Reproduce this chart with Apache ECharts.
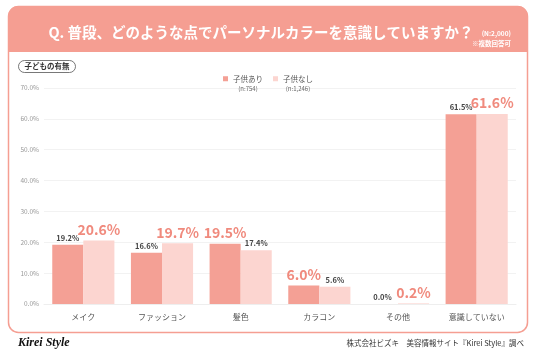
<!DOCTYPE html>
<html><head><meta charset="utf-8">
<script src="https://cdn.jsdelivr.net/npm/echarts@6/dist/echarts.min.js"></script>
<style>html,body{margin:0;padding:0;background:#fff}#c{width:536px;height:357px}</style>
</head><body><div id="c"></div>
<script>
const categories = ['メイク','ファッション','髪色','カラコン','その他','意識していない'];
const withKids = [19.2, 16.6, 19.5, 6.0, 0.0, 61.5];
const withoutKids = [20.6, 19.7, 17.4, 5.6, 0.2, 61.6];
const seriesNames = ['子供あり','子供なし'];
const seriesN = ['(n:754)','(n:1,246)'];
const yTicks = [0,10,20,30,40,50,60,70];

const FONT = '"Noto Sans CJK JP", "Noto Sans", sans-serif';
const C1 = '#F4A095', C2 = '#FCD5D0', HEAD = '#F59E92', BIG = '#F08A7D';

function mk(vals, other){
  return vals.map((v,i)=>{
    const big = v > other[i];
    return {value:v, label:{
      show:true, position:'top', distance: big?4:3,
      formatter: p => p.value.toFixed(1)+'%',
      fontFamily: FONT, fontWeight:'bold',
      fontSize: big?14:7.5, color: big?BIG:'#444'
    }};
  });
}

const chart = echarts.init(document.getElementById('c'), null, {renderer:'canvas'});
chart.setOption({
  animation:false,
  backgroundColor:'#fff',
  textStyle:{fontFamily:FONT},
  graphic:[
    {type:'rect', z:-10, shape:{x:8.5,y:6.5,width:519,height:326,r:10}, style:{fill:'#fff',stroke:HEAD,lineWidth:1.5}},
    {type:'rect', z:-9, shape:{x:8,y:6,width:520,height:46,r:[10,10,0,0]}, style:{fill:HEAD}},
    {type:'text', z:5, x:261, y:32, style:{text:'Q. 普段、どのような点でパーソナルカラーを意識していますか？', fill:'#fff', font:'bold 14.5px '+FONT, textAlign:'center', textVerticalAlign:'middle'}},
    {type:'text', z:5, x:511, y:34, style:{text:'(N:2,000)', fill:'#fff', font:'bold 6.5px '+FONT, textAlign:'right', textVerticalAlign:'middle'}},
    {type:'text', z:5, x:511, y:44, style:{text:'※複数回答可', fill:'#fff', font:'bold 6.5px '+FONT, textAlign:'right', textVerticalAlign:'middle'}},
    {type:'rect', z:5, shape:{x:18.5,y:60.5,width:57,height:12,r:6}, style:{fill:'#fff',stroke:'#555',lineWidth:0.8}},
    {type:'text', z:6, x:47, y:66.5, style:{text:'子どもの有無', fill:'#333', font:'bold 7.5px '+FONT, textAlign:'center', textVerticalAlign:'middle'}},
    {type:'text', z:5, x:18, y:343, style:{text:'Kirei Style', fill:'#111', font:'italic bold 12px "Liberation Serif", serif', textAlign:'left', textVerticalAlign:'middle'}},
    {type:'text', z:5, x:524, y:343, style:{text:'株式会社ビズキ　美容情報サイト『Kirei Style』調べ', fill:'#333', font:'7.5px '+FONT, textAlign:'right', textVerticalAlign:'middle'}}
  ],
  legend:{
    top:70, left:'center', itemWidth:5, itemHeight:14, itemGap:10,
    icon:'path://M0,0h5v5h-5z M0,14h5',
    data:seriesNames,
    formatter: name => { const i = seriesNames.indexOf(name); return '{a|'+name+'}\n{b|'+seriesN[i]+'}'; },
    textStyle:{ rich:{ a:{fontSize:7.5,color:'#555',fontFamily:FONT,lineHeight:11,align:'center'}, b:{fontSize:6,color:'#666',fontFamily:FONT,lineHeight:9,align:'center'} } }
  },
  grid:{left:44, right:20, top:88, bottom:53},
  xAxis:{
    type:'category', data:categories,
    axisLine:{show:true,lineStyle:{color:'#eee'}}, axisTick:{show:false},
    axisLabel:{fontSize:8,color:'#555',margin:9,fontFamily:FONT}
  },
  yAxis:{
    type:'value', min:yTicks[0], max:yTicks[yTicks.length-1], interval:10,
    axisLine:{show:false}, axisTick:{show:false},
    axisLabel:{fontSize:6.5,color:'#999',margin:5,formatter:v=>v.toFixed(1)+'%'},
    splitLine:{lineStyle:{color:'#f2f2f2',width:1}}
  },
  series:[
    {name:seriesNames[0], type:'bar', data:mk(withKids, withoutKids), itemStyle:{color:C1}, barGap:'0%', barCategoryGap:'21%'},
    {name:seriesNames[1], type:'bar', data:mk(withoutKids, withKids), itemStyle:{color:C2}, barGap:'0%', barCategoryGap:'21%'}
  ]
});
</script></body></html>
